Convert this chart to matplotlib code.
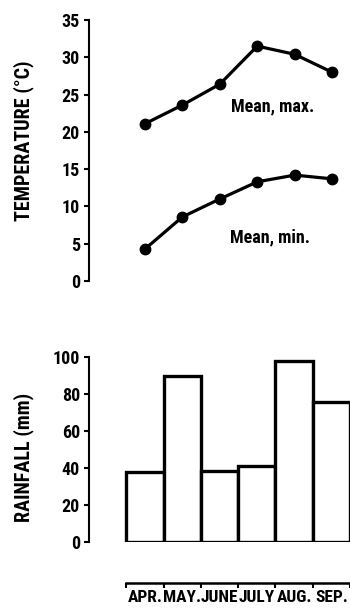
import matplotlib
matplotlib.use("Agg")
import matplotlib.pyplot as plt
import numpy as np

months = ["APR.", "MAY.", "JUNE", "JULY", "AUG.", "SEP."]
mean_max = [21.1, 23.6, 26.4, 31.5, 30.4, 28.0]
mean_min = [4.3, 8.6, 11.0, 13.3, 14.2, 13.7]
rainfall = [37.8, 89.6, 38.4, 41.0, 97.8, 75.3]
temp_ticks = [0, 5, 10, 15, 20, 25, 30, 35]
rain_ticks = [0, 20, 40, 60, 80, 100]

FONT = ['Roboto Condensed', 'DejaVu Sans']
plt.rcParams['font.family'] = FONT
plt.rcParams['font.weight'] = 'bold'

W, H = 350, 610
fig = plt.figure(figsize=(W / 100, H / 100), dpi=100)

def fx(px):
    return px / W

def fy(py):
    return (H - py) / H

left_px = 89
right_px = 350
x = np.arange(len(months))
xlim = (-1.5, 5.48)

# Top panel
top_b, top_t = 281, 20
ax1 = fig.add_axes([fx(left_px), fy(top_b), fx(right_px - left_px), (top_b - top_t) / H])
ax1.plot(x, mean_max, color='black', lw=2.3, marker='o', ms=7.5, clip_on=False)
ax1.plot(x, mean_min, color='black', lw=2.3, marker='o', ms=7.5, clip_on=False)
ax1.set_xlim(*xlim)
ax1.set_ylim(0, 35)
ax1.set_yticks(temp_ticks)
ax1.set_xticks([])
for s in ['top', 'right', 'bottom']:
    ax1.spines[s].set_visible(False)
ax1.spines['left'].set_linewidth(1.5)
ax1.tick_params(axis='y', direction='out', length=3.5, width=1.5, pad=3, labelsize=13)
ax1.text(3.42, 23.4, "Mean, max.", fontsize=13, fontweight='bold', ha='center', va='center')
ax1.text(3.34, 5.9, "Mean, min.", fontsize=13, fontweight='bold', ha='center', va='center')
ax1.patch.set_visible(False)

# Bottom panel
bot_b, bot_t = 541.7, 356.7
ax2 = fig.add_axes([fx(left_px), fy(bot_b), fx(right_px - left_px), (bot_b - bot_t) / H])
ax2.bar(x, rainfall, width=1.0, facecolor='white', edgecolor='black', linewidth=2.4)
ax2.set_xlim(*xlim)
ax2.set_ylim(0, 100)
ax2.set_yticks(rain_ticks)
for s in ['top', 'right']:
    ax2.spines[s].set_visible(False)
ax2.spines['left'].set_linewidth(1.5)
ax2.tick_params(axis='y', direction='out', length=3.5, width=1.5, pad=3, labelsize=13)
ax2.spines['bottom'].set_position(('outward', 29.7))
ax2.spines['bottom'].set_bounds(-0.5, 5.5)
ax2.spines['bottom'].set_linewidth(1.8)
ax2.set_xticks(np.arange(-0.5, 6.0, 1.0))
ax2.set_xticklabels([])
ax2.set_xticks(x, minor=True)
ax2.set_xticklabels(months, minor=True, fontsize=12.5, fontweight='bold')
ax2.tick_params(axis='x', which='major', direction='out', length=3.5, width=1.5)
ax2.tick_params(axis='x', which='minor', length=0, pad=5)
ax2.patch.set_visible(False)

# Axis titles
fig.text(fx(23.5), fy(141), "TEMPERATURE (°C)", rotation=90, fontsize=14.5,
         fontweight='bold', ha='center', va='center')
fig.text(fx(23.5), fy(457), "RAINFALL (mm)", rotation=90, fontsize=14.5,
         fontweight='bold', ha='center', va='center')

fig.savefig("out.png", dpi=100)
